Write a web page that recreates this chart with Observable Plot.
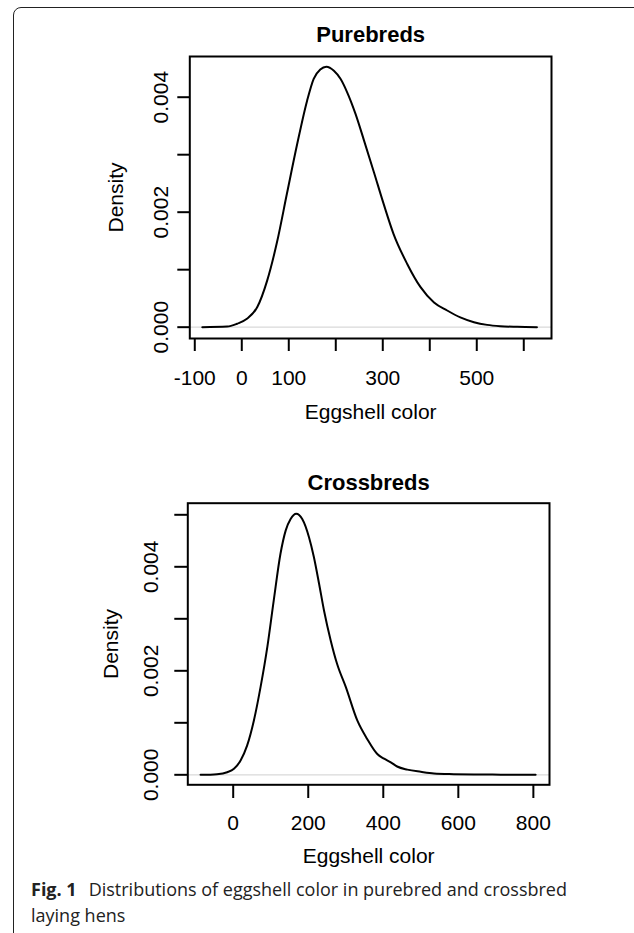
<!DOCTYPE html>
<html>
<head>
<meta charset="utf-8">
<script src="https://cdn.jsdelivr.net/npm/d3@7"></script>
<script src="https://cdn.jsdelivr.net/npm/@observablehq/plot@0.6"></script>
<style>
  html, body { margin: 0; padding: 0; background: #fff; }
  body { width: 634px; height: 933px; overflow: hidden; position: relative; }
  #card { position: absolute; left: 13px; top: 7px; width: 700px; height: 1000px;
          border: 1.5px solid #222; border-radius: 8px; box-sizing: border-box; }
  #top, #bottom { position: absolute; left: 0; }
  #top { top: 0; }
  #bottom { top: 450px; }
  #caption { position: absolute; left: 31px; top: 876px; width: 590px;
             font-family: "Open Sans", sans-serif; font-size: 18px; line-height: 26px; color: #222; }
  #caption div { white-space: nowrap; }
  #caption b { margin-right: 12px; }
</style>
</head>
<body>
<div id="card"></div>
<div id="top"></div>
<div id="bottom"></div>
<div id="caption">
  <div><b>Fig. 1</b><span>Distributions of eggshell color in purebred and crossbred</span></div>
  <div><span>laying hens</span></div>
</div>
<script>
// ---- Data ----
const pureTitle = "Purebreds";
const pureX = [-84,-31,-10,11,33,54,75,96,118,139,153,167,180,196,210,224,242,260,281,302,323,352,380,409,437,465,494,522,550,586,628];
const pureD = [0,0.00001,0.00006,0.000145,0.00035,0.00081,0.00148,0.00232,0.00319,0.00394,0.00432,0.00448,0.00453,0.00446,0.00432,0.00409,0.00371,0.00325,0.0027,0.00214,0.00162,0.0011,0.0007,0.00043,0.00029,0.00017,0.000087,0.00004,0.000017,0.000006,0];
const pureXTicks = [-100,0,100,200,300,400,500,600];
const pureXLabels = [-100,0,100,300,500];
const pureYTicks = [0,0.001,0.002,0.003,0.004];
const pureYLabels = [0,0.002,0.004];

const crossTitle = "Crossbreds";
const crossX = [-87,-43,-16,2,20,37,55,73,91,108,126,140,153,168,184,202,215,229,242,260,277,300,331,357,384,402,420,437,464,500,535,588,642,713,806];
const crossD = [0,0.000013,0.00005,0.000115,0.00028,0.00056,0.00104,0.00169,0.00246,0.00335,0.00425,0.0047,0.00492,0.00502,0.00492,0.00457,0.00419,0.00367,0.00316,0.00258,0.00213,0.00169,0.00104,0.00069,0.0004,0.00031,0.00024,0.00016,0.0001,0.000058,0.000026,0.000013,0.000006,0.000003,0];
const crossXTicks = [0,200,400,600,800];
const crossXLabels = [0,200,400,600,800];
const crossYTicks = [0,0.001,0.002,0.003,0.004,0.005];
const crossYLabels = [0,0.002,0.004];

const xLabel = "Eggshell color";
const yLabel = "Density";

function panel(cfg) {
  const data = cfg.xs.map((x, i) => ({x, d: cfg.ds[i]}));
  return Plot.plot({
    width: 634,
    height: 440,
    marginLeft: cfg.ml, marginRight: cfg.mr, marginTop: cfg.mt, marginBottom: cfg.mb,
    style: {fontFamily: "'Liberation Sans', Arial, sans-serif", fontSize: "21px", color: "#000", background: "transparent"},
    x: {domain: cfg.xDomain},
    y: {domain: cfg.yDomain},
    marks: [
      Plot.ruleY([0], {stroke: "#d9d9d9", strokeWidth: 1.2}),
      Plot.line(data, {x: "x", y: "d", stroke: "#000", strokeWidth: 2, curve: "monotone-x"}),
      Plot.frame({stroke: "#000", strokeWidth: 2}),
      Plot.axisX({ticks: cfg.xTicks, tickSize: cfg.tsx, tickPadding: cfg.tpx, strokeWidth: 2, strokeOpacity: 1,
                  tickFormat: d => cfg.xLabels.includes(d) ? String(d) : "", label: null, fontSize: 21}),
      Plot.axisY({ticks: cfg.yTicks, tickSize: cfg.tsy, strokeWidth: 2, strokeOpacity: 1,
                  tickFormat: () => "", label: null}),
      Plot.text(cfg.yLabels, {y: d => d, text: d => d.toFixed(3), frameAnchor: "left", dx: cfg.ylx,
                  rotate: -90, textAnchor: "middle", lineAnchor: "middle", fontSize: 21}),
      Plot.text([yLabel], {frameAnchor: "left", dx: cfg.ytx, rotate: -90, textAnchor: "middle", lineAnchor: "middle", fontSize: 21}),
      Plot.text([xLabel], {frameAnchor: "bottom", dy: cfg.xtdy, textAnchor: "middle", lineAnchor: "middle", fontSize: 21}),
      Plot.text([cfg.title], {frameAnchor: "top", dy: cfg.tdy, lineAnchor: "middle", fontWeight: "bold", fontSize: 22})
    ]
  });
}

document.getElementById("top").append(panel({
  xs: pureX, ds: pureD, title: pureTitle,
  ml: 189.3, mr: 83, mt: 56, mb: 102,
  xDomain: [-110.6, 659], yDomain: [-0.000197, 0.004708],
  xTicks: pureXTicks, xLabels: pureXLabels, yTicks: pureYTicks, yLabels: pureYLabels,
  tsx: 13, tpx: 19, tsy: 12, ylx: -29, ytx: -74, xtdy: 74, tdy: -22
}));

document.getElementById("bottom").append(panel({
  xs: crossX, ds: crossD, title: crossTitle,
  ml: 187.3, mr: 85, mt: 52.7, mb: 105.7,
  xDomain: [-121, 843], yDomain: [-0.000192, 0.005223],
  xTicks: crossXTicks, xLabels: crossXLabels, yTicks: crossYTicks, yLabels: crossYLabels,
  tsx: 13.7, tpx: 17, tsy: 13, ylx: -37, ytx: -77, xtdy: 71, tdy: -20
}));
</script>
</body>
</html>
